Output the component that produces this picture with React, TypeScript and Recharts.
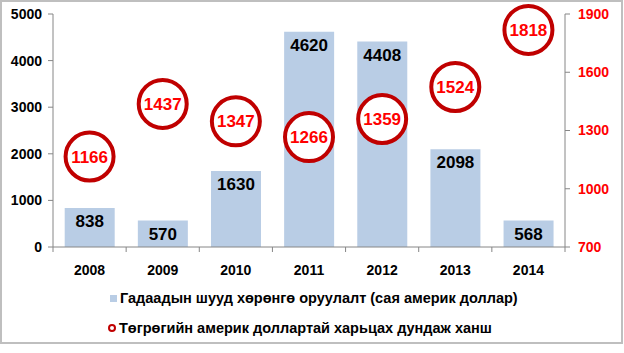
import React from "react";
import {
  ComposedChart,
  Bar,
  Line,
  XAxis,
  YAxis,
  LabelList,
} from "recharts";

const years = ["2008", "2009", "2010", "2011", "2012", "2013", "2014"];
const fdiValues = [838, 570, 1630, 4620, 4408, 2098, 568];
const rateValues = [1166, 1437, 1347, 1266, 1359, 1524, 1818];
const leftTicks = [0, 1000, 2000, 3000, 4000, 5000];
const rightTicks = [700, 1000, 1300, 1600, 1900];

const fdiName = "Гадаадын шууд хөрөнгө оруулалт (сая америк доллар)";
const rateName = "Төгрөгийн америк доллартай харьцах дундаж ханш";

const chartData = years.map((year, i) => ({
  year,
  fdi: fdiValues[i],
  rate: rateValues[i],
}));

const FONT = "'Liberation Sans', Arial, sans-serif";
const BAR_COLOR = "#B9CDE5";
const RING_COLOR = "#C00000";
const AXIS_COLOR = "#868686";
const BAND = (624 - 53 - 59) / years.length;

const XTick = (props: any) => {
  const { x, y, payload, index } = props;
  return (
    <g>
      <line x1={x + BAND / 2} y1={y} x2={x + BAND / 2} y2={y + 5} stroke={AXIS_COLOR} />
      {index === 0 && (
        <line x1={x - BAND / 2} y1={y} x2={x - BAND / 2} y2={y + 5} stroke={AXIS_COLOR} />
      )}
      <text
        x={x}
        y={y + 28}
        textAnchor="middle"
        fontFamily={FONT}
        fontWeight="bold"
        fontSize={14}
        fill="#000"
      >
        {payload.value}
      </text>
    </g>
  );
};

const RateDot = (props: any) => {
  const { cx, cy, index } = props;
  if (cx == null || cy == null) return null;
  return (
    <g key={`dot-${index}`}>
      <circle cx={cx} cy={cy} r={24} fill="#fff" stroke={RING_COLOR} strokeWidth={4} />
      <text
        x={cx}
        y={cy + 6}
        textAnchor="middle"
        fontFamily={FONT}
        fontWeight="bold"
        fontSize={17}
        fill="#FF0000"
      >
        {rateValues[index]}
      </text>
    </g>
  );
};

const App: React.FC = () => {
  return (
    <div
      style={{
        position: "absolute",
        left: 0,
        top: 0,
        width: 624,
        height: 353,
        background: "#fff",
        fontFamily: FONT,
      }}
    >
      <div
        style={{
          position: "absolute",
          left: 0,
          top: 0,
          width: 619,
          height: 340,
          border: "2px solid #BFBFBF",
        }}
      />
      <div style={{ position: "absolute", left: 0, top: 0 }}>
        <ComposedChart
          width={624}
          height={290}
          data={chartData}
          margin={{ top: 14, right: 0, left: 0, bottom: 0 }}
          barCategoryGap="16%"
        >
          <XAxis
            dataKey="year"
            height={43}
            stroke={AXIS_COLOR}
            tickLine={false}
            tickSize={0}
            tickMargin={0}
            tick={<XTick />}
            interval={0}
          />
          <YAxis
            yAxisId="left"
            orientation="left"
            width={53}
            domain={[0, 5000]}
            ticks={leftTicks}
            stroke={AXIS_COLOR}
            tickSize={5}
            tickMargin={6}
            tick={{ fill: "#000", fontSize: 14, fontWeight: "bold", fontFamily: FONT }}
          />
          <YAxis
            yAxisId="right"
            orientation="right"
            width={59}
            domain={[700, 1900]}
            ticks={rightTicks}
            stroke={AXIS_COLOR}
            tickSize={5}
            tickMargin={8}
            tick={{ fill: "#FF0000", fontSize: 14, fontWeight: "bold", fontFamily: FONT }}
          />
          <Bar yAxisId="left" dataKey="fdi" fill={BAR_COLOR} isAnimationActive={false}>
            <LabelList
              dataKey="fdi"
              position="insideTop"
              offset={7}
              fill="#000"
              fontSize={17}
              fontWeight="bold"
              fontFamily={FONT}
            />
          </Bar>
          <Line
            yAxisId="right"
            dataKey="rate"
            stroke="none"
            dot={<RateDot />}
            activeDot={false}
            isAnimationActive={false}
          />
        </ComposedChart>
      </div>
      <div
        style={{
          position: "absolute",
          left: 108,
          top: 289,
          fontSize: 14.5,
          fontWeight: "bold",
          color: "#000",
          lineHeight: "18px",
        }}
      >
        <div style={{ display: "flex", alignItems: "center", height: 18 }}>
          <span
            style={{
              display: "inline-block",
              width: 7,
              height: 7,
              background: BAR_COLOR,
              marginLeft: 2,
              marginRight: 3,
            }}
          />
          <span>{fdiName}</span>
        </div>
        <div style={{ display: "flex", alignItems: "center", height: 18, marginTop: 12 }}>
          <span
            style={{
              display: "inline-block",
              width: 4,
              height: 4,
              borderRadius: "50%",
              border: `2.5px solid ${RING_COLOR}`,
              marginRight: 3,
            }}
          />
          <span>{rateName}</span>
        </div>
      </div>
    </div>
  );
};

export default App;
